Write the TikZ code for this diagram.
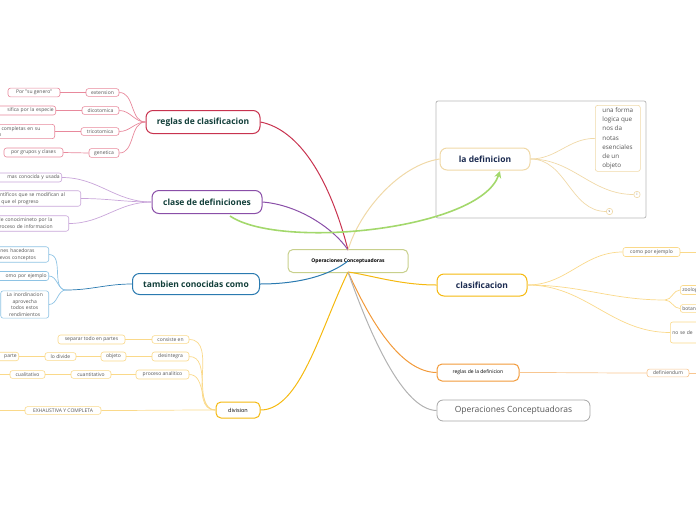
\documentclass[tikz,border=0pt]{standalone}
\usepackage{fontspec}
\setmainfont{Open Sans}
\usetikzlibrary{arrows.meta}
\definecolor{cred}{HTML}{C8334F}\definecolor{lred}{HTML}{E8899C}
\definecolor{cpur}{HTML}{8A4FA8}\definecolor{lpur}{HTML}{C9A6DA}
\definecolor{cblu}{HTML}{2A7AB0}\definecolor{lblu}{HTML}{8EC3E4}
\definecolor{cyel}{HTML}{F5B90F}\definecolor{lyel}{HTML}{FAD98A}
\definecolor{ctan}{HTML}{F0D9A8}\definecolor{cora}{HTML}{F29A3A}\definecolor{lora}{HTML}{F8C690}
\definecolor{cgre}{HTML}{C8D08C}\definecolor{txg}{HTML}{123F3A}\definecolor{txn}{HTML}{1A2A50}
\definecolor{txt}{HTML}{555555}\definecolor{garr}{HTML}{A3D86C}
\tikzset{
 main/.style={draw, rounded corners=7pt, line width=1pt, fill=white, font=\fontsize{8.5}{10}\selectfont\bfseries, inner sep=0pt},
 leaf/.style={draw, rounded corners=2.5pt, line width=0.6pt, fill=white, font=\fontsize{5}{6.5}\selectfont, text=txt, inner sep=2pt, align=center},
 br/.style={line width=1pt},
 ln/.style={line width=0.7pt},
}
\begin{document}
\begin{tikzpicture}[x=1pt,y=-1pt]
\useasboundingbox (0,0) rectangle (696,520);
\clip (0,0) rectangle (696,520);
% frame
\draw[gray!55, line width=0.8pt, rounded corners=2pt] (436,101) rectangle (646,218);
% central
\node[draw=cgre, line width=1pt, rounded corners=5pt, fill=white, minimum width=120, minimum height=23, font=\fontsize{5}{6}\selectfont\bfseries] (c) at (348,261) {Operaciones Conceptuadoras};
% main nodes
\node[main, draw=cred, text=txg, minimum width=114, minimum height=23] (r) at (203,122) {reglas de clasificacion};
\node[main, draw=cpur, text=txg, minimum width=110, minimum height=23] (d) at (207,202) {clase de definiciones};
\node[main, draw=cblu, text=txg, minimum width=127, minimum height=21] (t) at (196,284) {tambien conocidas como};
\node[main, draw=cyel, text=black, minimum width=44, minimum height=16, font=\fontsize{5.5}{6}\selectfont, rounded corners=5pt] (v) at (238,410) {division};
\node[main, draw=ctan, text=txn, minimum width=90, minimum height=22] (ld) at (485,159) {la definicion};
\node[main, draw=cyel, text=txn, minimum width=90, minimum height=22] (cl) at (482,285) {clasificacion};
\node[main, draw=cora, text=black, minimum width=82, minimum height=17, font=\fontsize{5}{6}\selectfont, rounded corners=5pt] (rd) at (478,372.5) {reglas de la definicion};
\node[draw=gray!70, line width=0.8pt, rounded corners=6pt, minimum width=153, minimum height=21, text=txt, font=\fontsize{8.5}{10}\selectfont] (oc) at (513.5,410.5) {Operaciones Conceptuadoras};
% branches
\draw[br, cred] (r.east) .. controls (300,130) and (330,180) .. (348,250);
\draw[br, cpur] (d.east) .. controls (300,205) and (335,230) .. (348,250);
\draw[br, cblu] (t.east) .. controls (300,284) and (330,275) .. (348,261);
\draw[br, cyel] (v.east) .. controls (300,410) and (320,330) .. (348,272);
\draw[br, ctan] (ld.west) .. controls (400,165) and (360,210) .. (348,250);
\draw[br, cyel] (cl.west) .. controls (400,285) and (370,275) .. (348,272);
\draw[br, cora] (rd.west) .. controls (400,372) and (370,320) .. (348,272);
\draw[br, gray!60] (oc.west) .. controls (400,410) and (365,320) .. (348,272);
% green arrow
\draw[line width=1.6pt, garr, -{Stealth[length=7pt,width=7pt]}] (230,216) .. controls (280,250) and (480,230) .. (500,171);
% reglas de clasificacion children
\node[leaf, draw=lred, minimum width=33] (r1) at (102.5,92.5) {extension};
\node[leaf, draw=lred, minimum width=37] (r2) at (100.5,110.5) {dicotomica};
\node[leaf, draw=lred, minimum width=38] (r3) at (100,131.5) {tricotomica};
\node[leaf, draw=lred, minimum width=30] (r4) at (104,153) {genetica};
\node[leaf, draw=lred, minimum width=52] (r1a) at (34,92.5) {Por "su genero"};
\node[leaf, draw=lred, text width=62, align=right, anchor=east] (r2a) at (56,110.5) {sifica por la especie};
\node[leaf, draw=lred, text width=61, align=left, anchor=east] (r3a) at (55,131.5) {nas completas en su\\sion};
\node[leaf, draw=lred, minimum width=59] (r4a) at (33.5,152.5) {por grupos y clases};
\foreach \a/\b in {r1/r1a,r2/r2a,r3/r3a,r4/r4a}{\draw[ln, lred] (\a.west) -- (\b.east);}
\foreach \a in {r1,r2,r3,r4}{\draw[ln, lred] (r.west) to[out=180,in=0] (\a.east);}
% clase de definiciones children
\node[leaf, draw=lpur, text width=66, align=right, anchor=east] (d1) at (62,177.5) {mas conocida y usada};
\node[leaf, draw=lpur, text width=85, align=left, anchor=east] (d2) at (81,198.5) {científicos que se modifican al\\no que el progreso};
\node[leaf, draw=lpur, text width=73, align=left, anchor=east] (d3) at (69,223.5) {s de conocimineto por la\\l proceso de informacion};
\foreach \a in {d1,d2,d3}{\draw[ln, lpur] (d.west) to[out=180,in=0] (\a.east);}
% tambien children
\node[leaf, draw=lblu, text width=53, align=left, anchor=east] (t1) at (49,254.5) {ciones hacedoras\\nuevos conceptos};
\node[leaf, draw=lblu, text width=53, align=right, anchor=east] (t2) at (49,276) {omo por ejemplo};
\node[leaf, draw=lblu, text width=44, anchor=east] (t3) at (49,304.5) {La inordinacion\\aprovecha\\todos estos\\rendimientos};
\coordinate (tj) at (66,290);
\draw[ln, cblu] (t.west) to[out=180,in=0] (tj);
\foreach \a in {t1,t2,t3}{\draw[ln, lblu] (tj) to[out=180,in=0] (\a.east);}
% division children
\node[leaf, draw=lyel, minimum width=37] (v1) at (170.5,339.5) {consiste en};
\node[leaf, draw=lyel, minimum width=37] (v2) at (170.5,356.5) {desintegra};
\node[leaf, draw=lyel, minimum width=53] (v3) at (162.5,374.5) {proceso analitico};
\node[leaf, draw=lyel, minimum width=76] (v4) at (63,410.5) {EXHAUSTIVA Y COMPLETA};
\node[leaf, draw=lyel, minimum width=67] (v1a) at (91.5,339.5) {separar todo en partes};
\node[leaf, draw=lyel, minimum width=25] (v2a) at (113.5,356.5) {objeto};
\node[leaf, draw=lyel, minimum width=31] (v2b) at (60.5,356.5) {lo divide};
\node[leaf, draw=lyel, text width=22, align=right, anchor=east] (v2c) at (19,356.5) {parte};
\node[leaf, draw=lyel, minimum width=40] (v3a) at (91,374.5) {cuantitativo};
\node[leaf, draw=lyel, minimum width=35] (v3b) at (27.5,374.5) {cualitativo};
\coordinate (v3c) at (-5,374.5); \coordinate (v4c) at (-5,410.5);
\foreach \a in {v1,v2,v3,v4}{\draw[ln, lyel] (v.west) to[out=180,in=0] (\a.east);}
\foreach \a/\b in {v1/v1a,v2/v2a,v2a/v2b,v2b/v2c,v3/v3a,v3a/v3b,v3b/v3c,v4/v4c}{\draw[ln, lyel] (\a.west) -- (\b);}
% la definicion children
\node[leaf, draw=ctan, align=left, font=\fontsize{6.3}{9.3}\selectfont, anchor=north west, minimum width=45] (n1) at (595,105) {una forma\\logica que\\nos da\\notas\\esenciales\\de un\\objeto};
\node[leaf, draw=ctan, inner sep=1pt, minimum width=6, minimum height=6, font=\fontsize{3.5}{4}\selectfont] (n2) at (637,194.5) {i};
\node[leaf, draw=ctan, inner sep=1pt, minimum width=6, minimum height=6, font=\fontsize{3.5}{4}\selectfont] (n3) at (609.5,211.5) {s};
\foreach \a in {n1,n2,n3}{\draw[ln, ctan] (ld.east) to[out=0,in=180] (\a.west);}
% clasificacion children
\node[leaf, draw=lyel, minimum width=57] (k1) at (651.5,252) {como por ejemplo};
\node[leaf, draw=lyel, text width=20, align=left, anchor=west] (k2) at (680,290) {zoologia};
\node[leaf, draw=lyel, text width=20, align=left, anchor=west] (k3) at (680,308.5) {botanica};
\node[leaf, draw=lyel, text width=30, align=left, anchor=west, minimum height=21] (k4) at (670,332.5) {no se de};
\coordinate (kj) at (665,300);
\draw[ln, lyel] (cl.east) to[out=0,in=180] (k1.west);
\draw[ln, lyel] (cl.east) to[out=0,in=180] (kj);
\draw[ln, lyel] (kj) to[out=0,in=180] (k2.west);
\draw[ln, lyel] (kj) to[out=0,in=180] (k3.west);
\draw[ln, lyel] (cl.east) to[out=0,in=180] (k4.west);
\draw[ln, lyel] (k1.east) -- (700,252);
% reglas de la definicion
\node[leaf, draw=lora, minimum width=42] (e1) at (668,373) {definiendum};
\draw[ln, lora] (rd.east) to[out=0,in=180] (e1.west);
\draw[ln, lora] (e1.east) -- (700,373);
\end{tikzpicture}
\end{document}
